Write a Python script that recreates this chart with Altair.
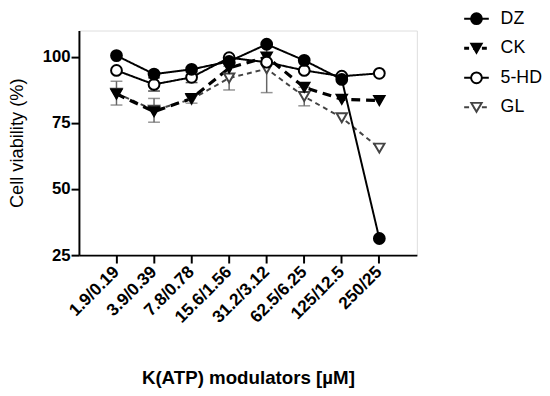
import altair as alt
import pandas as pd

categories = ["1.9/0.19", "3.9/0.39", "7.8/0.78", "15.6/1.56",
              "31.2/3.12", "62.5/6.25", "125/12.5", "250/25"]
series = ["DZ", "CK", "5-HD", "GL"]
dz = [100.5, 93.5, 95.3, 98.3, 104.8, 98.7, 91.5, 31.3]
ck = [86.0, 79.3, 84.3, 95.8, 100.0, 88.5, 84.0, 83.5]
hd = [94.9, 89.6, 92.3, 99.7, 98.0, 94.9, 92.7, 93.8]
gl = [86.3, 79.8, 84.0, 92.0, 95.5, 85.0, 77.0, 65.5]
dz_err = [0, 0, 0, 0, 0, 0, 0, 0]
ck_err = [0, 0, 0, 0, 0, 0, 0, 0]
hd_err = [0, 2.5, 2.0, 0, 0, 0, 0, 0]
gl_err = [4.5, 4.5, 1.5, 4.5, 9.0, 3.5, 0, 0]
y_ticks = [25, 50, 75, 100]

values = {"DZ": dz, "CK": ck, "5-HD": hd, "GL": gl}
errs = {"DZ": dz_err, "CK": ck_err, "5-HD": hd_err, "GL": gl_err}
rows = []
for s in series:
    for c, v, e in zip(categories, values[s], errs[s]):
        rows.append({"cat": c, "series": s, "v": v, "lo": v - e, "hi": v + e, "e": e})
df = pd.DataFrame(rows)

style = {
    "DZ": dict(color="black", dash=[1, 0], sw=2, shape="circle", fill="black", size=120),
    "CK": dict(color="black", dash=[9, 6], sw=3.2, shape="triangle-down", fill="black", size=110),
    "5-HD": dict(color="black", dash=[1, 0], sw=2, shape="circle", fill="white", size=120),
    "GL": dict(color="#444444", dash=[5, 4], sw=2, shape="triangle-down", fill="white", size=110),
}

FONT = "Liberation Sans"
xs = alt.Scale(domain=categories, padding=1)
ys = alt.Scale(domain=[25, 110], nice=False, zero=False)

xaxis = alt.Axis(title="K(ATP) modulators [µM]", labelAngle=-45,
                 labelAlign="right", labelBaseline="middle",
                 labelFont=FONT, labelFontWeight="bold", labelFontSize=17.5,
                 titleFont=FONT, titleFontWeight="bold", titleFontSize=19,
                 titleY=124, titleBaseline="middle", labelPadding=6,
                 tickSize=8, tickWidth=2, tickColor="black",
                 domainWidth=2, domainColor="black", labelColor="black",
                 titleColor="black", grid=False)
yaxis = alt.Axis(title="Cell viability (%)", values=y_ticks,
                 labelFont=FONT, labelFontWeight="bold", labelFontSize=17,
                 titleFont=FONT, titleFontWeight="normal", titleFontSize=18.5,
                 titleX=-63, titleBaseline="middle", labelPadding=1,
                 tickSize=8, tickWidth=2, tickColor="black",
                 domainWidth=2, domainColor="black", labelColor="black",
                 titleColor="black", grid=False)

base = alt.Chart(df)


def X():
    return alt.X("cat:N", scale=xs, sort=categories, axis=xaxis)


def Y(field):
    return alt.Y(field, scale=ys, axis=yaxis)


layers = []
for s in ["GL", "5-HD"]:
    col = "#666666" if s == "GL" else "black"
    sub = base.transform_filter(alt.datum.series == s).transform_filter(alt.datum.e > 0)
    layers.append(sub.mark_rule(color=col, strokeWidth=1.5).encode(
        x=X(), y=Y("lo:Q"), y2="hi:Q"))
    layers.append(sub.mark_tick(color=col, thickness=1.5, size=12, orient="horizontal").encode(
        x=X(), y=Y("lo:Q")))
    layers.append(sub.mark_tick(color=col, thickness=1.5, size=12, orient="horizontal").encode(
        x=X(), y=Y("hi:Q")))

for s in ["GL", "CK", "5-HD", "DZ"]:
    st = style[s]
    sub = base.transform_filter(alt.datum.series == s)
    layers.append(sub.mark_line(color=st["color"], strokeDash=st["dash"],
                                strokeWidth=st["sw"]).encode(x=X(), y=Y("v:Q")))
for s in ["GL", "CK", "5-HD", "DZ"]:
    st = style[s]
    sub = base.transform_filter(alt.datum.series == s)
    layers.append(sub.mark_point(shape=st["shape"], filled=True, fill=st["fill"],
                                 stroke=st["color"], strokeWidth=2, size=st["size"],
                                 opacity=1).encode(x=X(), y=Y("v:Q")))

main = alt.layer(*layers)

leg_rows = []
for s in series:
    leg_rows.append({"series": s, "p": 0.0})
    leg_rows.append({"series": s, "p": 1.0})
leg_df = pd.DataFrame(leg_rows)
lx = alt.Scale(domain=[0, 1], range=[391, 416])
ly = alt.Scale(domain=series, range=[-12, 78], padding=0)
leg_layers = []
for s in series:
    st = style[s]
    lb = alt.Chart(leg_df).transform_filter(alt.datum.series == s)
    leg_layers.append(lb.mark_line(color=st["color"],
                                   strokeDash=[5, 4] if s in ("CK", "GL") else [1, 0],
                                   strokeWidth=st["sw"]).encode(
        x=alt.X("p:Q", scale=lx, axis=None),
        y=alt.Y("series:N", scale=ly, axis=None)))
    leg_layers.append(lb.transform_filter(alt.datum.p == 0).mark_point(
        shape=st["shape"], filled=True, fill=st["fill"], stroke=st["color"],
        strokeWidth=2, size=st["size"], opacity=1).encode(
        x=alt.value(403.5),
        y=alt.Y("series:N", scale=ly, axis=None)))
    leg_layers.append(lb.transform_filter(alt.datum.p == 0).mark_text(
        align="left", baseline="middle", font=FONT, fontSize=18, color="black").encode(
        x=alt.value(428),
        y=alt.Y("series:N", scale=ly, axis=None),
        text="series:N"))
legend = alt.layer(*leg_layers)

chart = alt.layer(main, legend).resolve_scale(x="independent", y="independent").properties(
    width=343, height=228,
    autosize=alt.AutoSizeParams(type="none"),
    padding={"left": 72, "top": 20, "right": 127, "bottom": 132}
).configure_view(stroke="transparent", strokeWidth=0).configure(background="white")

chart.save("out.html", embed_options={"renderer": "svg", "actions": False})
